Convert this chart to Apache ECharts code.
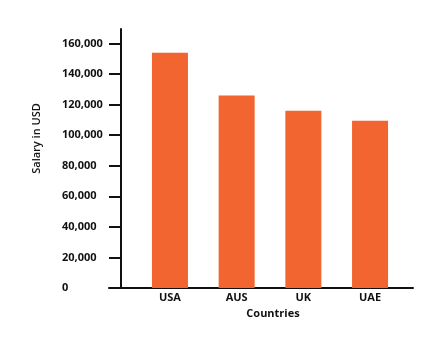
<!DOCTYPE html>
<html><head><meta charset="utf-8">
<script src="https://cdn.jsdelivr.net/npm/echarts@6/dist/echarts.min.js"></script>
<style>html,body{margin:0;padding:0;background:#fff}#c{width:448px;height:340px}</style>
</head><body><div id="c"></div>
<script>
const categories = ['USA', 'AUS', 'UK', 'UAE'];
const salaries = [154000, 126000, 116000, 109500];
const yMax = 160000;
const yInterval = 20000;
const xName = 'Countries';
const yName = 'Salary in USD';

const chart = echarts.init(document.getElementById('c'));
const font = '"Open Sans", sans-serif';
chart.setOption({
  animation: false,
  grid: [
    {left: 136.6, width: 266.8, top: 43.5, bottom: 52, containLabel: false},
    {left: 109, width: 304, top: 29, bottom: 52, containLabel: false}
  ],
  xAxis: [
    {gridIndex: 0, type: 'category', data: categories,
     axisLine: {show: false}, axisTick: {show: false},
     axisLabel: {margin: 4, color: '#111', fontFamily: font, fontWeight: 'bold', fontSize: 11},
     name: xName, nameLocation: 'middle', nameGap: 20,
     nameTextStyle: {color: '#111', fontFamily: font, fontWeight: 'bold', fontSize: 11, padding: [0, 0, 0, 6]}},
    {gridIndex: 1, type: 'category', data: categories,
     axisLine: {show: true, lineStyle: {color: '#111', width: 2}},
     axisTick: {show: false}, axisLabel: {show: false}}
  ],
  yAxis: [
    {gridIndex: 0, type: 'value', min: 0, max: yMax, interval: yInterval, offset: 15.6,
     axisLine: {show: false},
     axisTick: {show: true, length: 12, lineStyle: {color: '#111', width: 2}},
     splitLine: {show: false},
     axisLabel: {align: 'left', margin: 59, color: '#111', fontFamily: font, fontWeight: 700, fontSize: 11,
       padding: [0, 0, 9, 0],
       formatter: v => v.toLocaleString('en-US')}},
    {gridIndex: 1, type: 'value', min: 0, max: 1, offset: -12,
     axisLine: {show: true, lineStyle: {color: '#111', width: 2}},
     axisTick: {show: false}, axisLabel: {show: false}, splitLine: {show: false},
     name: yName, nameLocation: 'middle', nameGap: 79, nameRotate: 90,
     nameTextStyle: {color: '#111', fontFamily: font, fontWeight: 600, fontSize: 11, padding: [0, 0, 0, 40]}}
  ],
  series: [{
    type: 'bar', xAxisIndex: 0, yAxisIndex: 0, data: salaries, barWidth: 36,
    itemStyle: {color: '#F26430'}
  }]
});
</script></body></html>
